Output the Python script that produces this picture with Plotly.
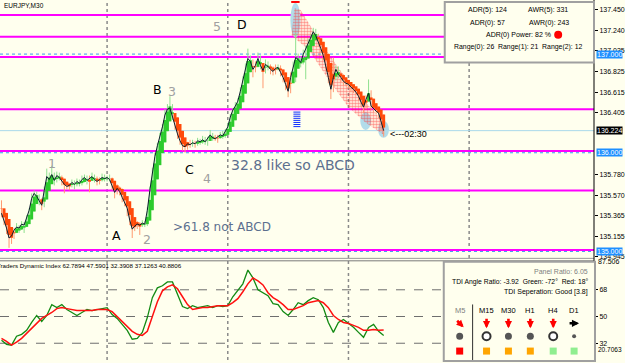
import plotly.graph_objects as go

# ------------------------------------------------------------------ data
symbol_title = "EURJPY,M30"

# M30 bar closes (bar index 0 .. 152)
close = [
    135.387, 135.317, 135.237, 135.136, 135.156, 135.216, 135.247, 135.237, 135.277, 135.267,
    135.337, 135.417, 135.538, 135.588, 135.558, 135.508, 135.468, 135.618, 135.759, 135.729,
    135.779, 135.719, 135.769, 135.749, 135.709, 135.679, 135.659, 135.669, 135.699, 135.679,
    135.709, 135.689, 135.729, 135.749, 135.719, 135.739, 135.759, 135.729, 135.709, 135.729,
    135.749, 135.739, 135.749, 135.729, 135.669, 135.598, 135.639, 135.608, 135.548, 135.498,
    135.438, 135.317, 135.226, 135.257, 135.277, 135.267, 135.287, 135.277, 135.417, 135.618,
    135.819, 135.960, 136.071, 136.161, 136.262, 136.382, 136.443, 136.453, 136.362, 136.272,
    136.191, 136.121, 136.071, 136.061, 136.091, 136.081, 136.101, 136.091, 136.121, 136.111,
    136.131, 136.111, 136.141, 136.181, 136.151, 136.141, 136.161, 136.181, 136.171, 136.211,
    136.262, 136.362, 136.432, 136.473, 136.523, 136.623, 136.744, 136.865, 136.955, 136.925,
    136.845, 136.885, 136.955, 136.885, 136.834, 136.895, 136.875, 136.845, 136.824, 136.855,
    136.865, 136.814, 136.764, 136.694, 136.623, 136.764, 136.865, 136.965, 136.945, 136.915,
    136.995, 137.056, 137.116, 137.166, 137.226, 137.186, 137.126, 137.056, 136.985, 136.885,
    136.764, 136.644, 136.764, 136.845, 136.794, 136.764, 136.724, 136.704, 136.694, 136.664,
    136.644, 136.613, 136.573, 136.513, 136.463, 136.543, 136.603, 136.473, 136.443, 136.422,
    136.402, 136.302, 136.224,
]
first_open = 135.488

# wick lengths beyond the body, in pips (0.01)
upper_wick_pips = [
    3, 2, 2, 2, 3, 2, 4, 2, 3, 2,   3, 2, 5, 3, 2, 2, 3, 4, 8, 4,
    9, 2, 4, 3, 2, 2, 3, 2, 3, 2,   3, 2, 4, 3, 2, 3, 4, 2, 3, 2,
    4, 3, 2, 3, 2, 2, 4, 2, 3, 2,   3, 2, 3, 4, 3, 2, 3, 2, 3, 4,
    3, 4, 3, 4, 3, 6, 5, 12, 4, 3,  2, 3, 2, 3, 2, 4, 3, 2, 3, 2,
    4, 3, 2, 5, 2, 3, 2, 3, 4, 3,   4, 3, 2, 4, 3, 4, 3, 4, 10, 3,
    2, 4, 6, 3, 2, 5, 3, 2, 3, 4,   3, 2, 3, 2, 3, 5, 6, 25, 4, 3,
    5, 3, 4, 3, 4, 3, 2, 3, 2, 4,   3, 2, 20, 4, 3, 2, 3, 2, 3, 2,
    3, 2, 3, 2, 3, 4, 14, 3, 2, 4,  3, 2, 3,
]
lower_wick_pips = [
    4, 5, 6, 10, 6, 3, 3, 5, 2, 8,  2, 4, 2, 6, 3, 4, 5, 2, 3, 2,
    2, 5, 2, 3, 4, 9, 3, 4, 2, 5,   2, 3, 2, 3, 4, 12, 2, 3, 4, 3,
    2, 3, 3, 2, 5, 6, 2, 4, 5, 4,   8, 5, 9, 2, 3, 10, 2, 3, 2, 2,
    2, 3, 2, 3, 2, 2, 3, 3, 3, 4,   5, 4, 5, 6, 3, 3, 2, 4, 2, 3,
    2, 3, 4, 2, 3, 2, 4, 2, 3, 2,   2, 2, 3, 2, 3, 2, 2, 3, 2, 4,
    8, 3, 2, 4, 18, 3, 4, 5, 4, 3,  2, 4, 5, 6, 6, 2, 3, 15, 3, 5,
    2, 25, 3, 2, 3, 4, 5, 4, 5, 4,  6, 10, 3, 3, 4, 5, 4, 3, 4, 5,
    4, 3, 4, 5, 6, 2, 2, 4, 3, 3,   5, 8, 6,
]

# Traders Dynamic Index, read every second bar
tdi_step = 2
tdi_green = [
    34.0, 31.3, 30.7, 36.7, 38.0, 40.7, 46.0, 50.7, 46.7, 50.7,
    58.0, 56.0, 58.0, 54.7, 52.7, 50.7, 52.7, 54.7, 54.0, 54.7,
    55.3, 56.0, 51.3, 48.7, 44.7, 40.7, 34.7, 35.3, 39.3, 49.3,
    62.7, 69.3, 70.7, 73.3, 73.3, 65.3, 56.7, 55.3, 57.3, 56.0,
    56.7, 57.3, 56.0, 57.3, 56.7, 57.3, 63.3, 67.3, 72.0, 81.3,
    76.0, 68.0, 66.0, 64.0, 58.7, 58.0, 53.3, 50.7, 54.7, 59.3,
    58.0, 60.7, 62.7, 61.3, 56.0, 46.0, 39.3, 46.0, 48.0, 45.3,
    42.7, 39.3, 36.0, 42.7, 44.7, 40.0, 37.13,
]
tdi_red = [
    35.3, 33.3, 30.7, 32.7, 35.3, 38.7, 42.0, 46.0, 48.7, 50.7,
    52.7, 55.3, 56.0, 55.3, 54.7, 54.0, 54.0, 54.0, 54.0, 54.7,
    54.7, 54.7, 53.3, 50.0, 46.0, 42.7, 40.0, 38.0, 37.3, 40.0,
    50.7, 60.0, 67.3, 70.0, 71.3, 68.7, 63.3, 58.0, 54.7, 55.3,
    56.0, 56.0, 56.7, 57.3, 57.3, 57.3, 59.3, 62.0, 66.7, 72.0,
    76.0, 74.0, 71.3, 66.0, 62.7, 60.7, 58.0, 54.7, 54.7, 56.0,
    57.3, 59.3, 60.0, 60.7, 59.3, 56.0, 50.7, 48.0, 46.0, 45.3,
    44.0, 42.7, 40.7, 40.7, 41.3, 40.7, 40.88,
]
tdi_title = "Traders Dynamic Index 62.7894 47.5901 32.3908 37.1263 40.8806"
tdi_levels = [68, 50, 32]
tdi_range = [20.7063, 87.506]

# levels and chart objects
magenta_levels = [137.397, 137.176, 136.970, 136.442, 136.017, 135.618, 135.015]
round_levels = [137.000, 136.000, 135.000]
bid_price = 136.224
day_start_bars = [42, 90, 138, 186]
price_range = [134.945, 137.548]
bar_range = [-0.594, 235.66]
price_ticks = [137.450, 137.240, 137.035, 136.825, 136.615, 136.405,
               135.780, 135.570, 135.365, 135.155, 134.945]

# fibo hatch band (bar index, price)
hatch_bars = [116.5, 118.9, 126.8, 135.9, 143.8, 152.2, 152.2, 145.0, 137.9, 130.0, 122.1, 115.4]
hatch_prices = [137.468, 137.448, 137.126, 136.794, 136.543, 136.302,
                136.181, 136.302, 136.463, 136.744, 137.046, 137.186]
# light blue highlight ovals: (bar0, bar1, price_top, price_bottom)
oval_bars0 = [114.9, 142.7, 149.8]
oval_bars1 = [118.9, 147.0, 154.1]
oval_top = [137.518, 136.412, 136.322]
oval_bot = [137.166, 136.231, 136.151]
# blue signal dashes
dash_bar = 117.5
dash_prices = [136.412, 136.391, 136.370, 136.349, 136.328, 136.307, 136.286, 136.265]
top_mark_bar, top_mark_price = 116.9, 137.528

# wave labels
wave_text = ["5", "D", "B", "3", "1", "C", "4", "A", "2"]
wave_bar = [85.7, 95.6, 61.9, 67.9, 20.0, 74.6, 81.7, 45.7, 58.0]
wave_price = [137.277, 137.297, 136.643, 136.623, 135.890, 135.829, 135.739, 135.166, 135.116]
wave_black = [False, True, True, False, False, True, False, True, False]
note_text = ["32.8 like so ABCD", ">61.8 not ABCD"]
note_size = [14, 12]
note_bar = [90.4, 67.5]
note_price = [135.880, 135.247]
timer_text, timer_bar, timer_price = "<---02:30", 153.7, 136.191

adr_lines = ["ADR(5): 124", "AWR(5): 331", "ADR(0): 57", "AWR(0): 243",
             "ADR(0) Power: 82 %", "Range(0): 26  Range(1): 21  Range(2): 12"]
panel_lines = ["Panel Ratio: 6.05", "TDI Angle Ratio: -3.92  Green: -72°  Red: 18°",
               "TDI Seperation: Good [3.8]"]
tf_names = ["M5", "M15", "M30", "H1", "H4", "D1"]
tf_dir = ["downright", "down", "down", "down", "down", "right"]
tf_arrow_col = ["#FF0000", "#FF0000", "#FF0000", "#FF0000", "#FF0000", "#000000"]
tf_circle = ["fill", "ring", "fill", "fill", "ring", "dot"]
tf_square = ["#FF0000", "#FFA500", "#FFA500", "#FFA500", "#90EE90", "#90EE90"]

# ------------------------------------------------------------------ layout constants
W, H = 625, 363
PW = 597            # plot area width in px
MAIN_BOTTOM = 259   # px
SUB_TOP = 263       # px
BG = "#FFFFEE"
FONT = "Liberation Sans"
WIDE = "DejaVu Sans"
GREEN = "#2DCB2D"
RED = "#FF4A0A"
GREEN_WICK = "#8FE08F"
RED_WICK = "#FF9A70"


def px(xp):
    return xp / PW


def py(yp):
    return 1 - yp / H


opens = [first_open] + close[:-1]
highs = [max(o, c) + u * 0.01 for o, c, u in zip(opens, close, upper_wick_pips)]
lows = [min(o, c) - d * 0.01 for o, c, d in zip(opens, close, lower_wick_pips)]
bars = list(range(len(close)))

# Heiken Ashi overlay computed from the bars
ha_close = [(o + h + l + c) / 4 for o, h, l, c in zip(opens, highs, lows, close)]
ha_open = [(opens[0] + close[0]) / 2]
for i in range(1, len(close)):
    ha_open.append((ha_open[-1] + ha_close[i - 1]) / 2)
ha_high = [max(h, a, b) for h, a, b in zip(highs, ha_open, ha_close)]
ha_low = [min(l, a, b) for l, a, b in zip(lows, ha_open, ha_close)]
ha_up = [c >= o for o, c in zip(ha_open, ha_close)]

fig = go.Figure()

# hatch band
fig.add_trace(go.Scatter(
    x=hatch_bars + hatch_bars[:1], y=hatch_prices + hatch_prices[:1], mode="lines",
    fill="toself", fillcolor="rgba(0,0,0,0)", line=dict(width=0),
    fillpattern=dict(shape=".", fgcolor="#FF2A2A", bgcolor="rgba(0,0,0,0)", size=3, solidity=0.55),
    hoverinfo="skip", showlegend=False))


def seg_trace(lo, hi, mask, want, col, width):
    xs, ys = [], []
    for i in bars:
        if mask[i] == want:
            xs += [i, i, None]
            ys += [lo[i], hi[i], None]
    return go.Scatter(x=xs, y=ys, mode="lines", line=dict(color=col, width=width),
                      hoverinfo="skip", showlegend=False)


# wicks then bodies
fig.add_trace(seg_trace(ha_low, ha_high, ha_up, True, GREEN_WICK, 1))
fig.add_trace(seg_trace(ha_low, ha_high, ha_up, False, RED_WICK, 1))
body_lo = [min(a, b) for a, b in zip(ha_open, ha_close)]
body_hi = [max(a, b) for a, b in zip(ha_open, ha_close)]
fig.add_trace(seg_trace(body_lo, body_hi, ha_up, True, GREEN, 3))
fig.add_trace(seg_trace(body_lo, body_hi, ha_up, False, RED, 3))

# close line
fig.add_trace(go.Scatter(x=bars, y=close, mode="lines", line=dict(color="#0C1E2C", width=1),
                         hoverinfo="skip", showlegend=False))

# blue dashes and top marker
fig.add_trace(go.Scatter(x=[dash_bar] * len(dash_prices), y=dash_prices, mode="markers",
                         marker=dict(symbol="line-ew", size=5, line=dict(color="#1030FF", width=1)),
                         hoverinfo="skip", showlegend=False))
fig.add_trace(go.Scatter(x=[top_mark_bar], y=[top_mark_price], mode="markers",
                         marker=dict(symbol="line-ew", size=6, line=dict(color="#FF0000", width=2)),
                         hoverinfo="skip", showlegend=False))

# TDI
tdi_x = bars[::tdi_step]
fig.add_trace(go.Scatter(x=tdi_x, y=tdi_green, mode="lines", line=dict(color="#138A13", width=1.3),
                         yaxis="y2", hoverinfo="skip", showlegend=False))
fig.add_trace(go.Scatter(x=tdi_x, y=tdi_red, mode="lines", line=dict(color="#FF1010", width=1.5),
                         yaxis="y2", hoverinfo="skip", showlegend=False))

shapes = []
# day separators
for b in day_start_bars:
    shapes.append(dict(type="line", xref="x", yref="paper", x0=b, x1=b, y0=0, y1=1, layer="below",
                       line=dict(color="#8A8A8A", width=1.5, dash="dot")))
# ovals
for b0, b1, t, bt in zip(oval_bars0, oval_bars1, oval_top, oval_bot):
    shapes.append(dict(type="circle", xref="x", yref="y", x0=b0, x1=b1, y0=bt, y1=t, layer="below",
                       fillcolor="#B2DCEA", line=dict(width=0)))
# horizontal levels
shapes.append(dict(type="line", xref="paper", yref="y", x0=0, x1=1, y0=bid_price, y1=bid_price,
                   layer="below", line=dict(color="#A9D9EA", width=1)))
for lv in round_levels:
    shapes.append(dict(type="line", xref="paper", yref="y", x0=0, x1=1, y0=lv, y1=lv, layer="below",
                       line=dict(color="#3A9AF0", width=1, dash="dot")))
for lv in magenta_levels:
    shapes.append(dict(type="line", xref="paper", yref="y", x0=0, x1=1, y0=lv, y1=lv, layer="below",
                       line=dict(color="#FF00FF", width=2)))
for lv in tdi_levels:
    shapes.append(dict(type="line", xref="paper", yref="y2", x0=0, x1=1, y0=lv, y1=lv, layer="below",
                       line=dict(color="#6E6E6E", width=1, dash="dash")))
# pane separator and axis line
for yp, col in [(260.5, "#9A9A9A"), (263, "#7A7A7A")]:
    shapes.append(dict(type="line", xref="paper", yref="paper", x0=0, x1=1, y0=py(yp), y1=py(yp),
                       line=dict(color=col, width=1)))
shapes.append(dict(type="line", xref="paper", yref="paper", x0=1, x1=1, y0=0, y1=1,
                   line=dict(color="#000000", width=1)))
# info boxes
shapes.append(dict(type="rect", xref="paper", yref="paper", x0=px(447), x1=px(597), y0=py(63), y1=py(2),
                   fillcolor=BG, line=dict(color="#A0A0A0", width=2), layer="above"))
shapes.append(dict(type="rect", xref="paper", yref="paper", x0=px(446), x1=px(598), y0=py(364), y1=py(264),
                   fillcolor=BG, line=dict(color="#A0A0A0", width=2), layer="above"))
shapes.append(dict(type="line", xref="paper", yref="paper", x0=px(475), x1=px(475), y0=py(363), y1=py(307),
                   line=dict(color="#303030", width=1), layer="above"))
# red power dot
shapes.append(dict(type="circle", xref="paper", yref="paper", xsizemode="pixel", ysizemode="pixel",
                   xanchor=px(561), yanchor=py(35), x0=-4, x1=4, y0=-4, y1=4,
                   fillcolor="#FF0000", line=dict(width=0), layer="above"))

tf_x = [462, 489, 511, 533, 556, 577]
for xp, kind, sq in zip(tf_x, tf_circle, tf_square):
    if kind == "fill":
        shapes.append(dict(type="circle", xref="paper", yref="paper", xsizemode="pixel", ysizemode="pixel",
                           xanchor=px(xp), yanchor=py(339), x0=-3.5, x1=3.5, y0=-3.5, y1=3.5,
                           fillcolor="#555555", line=dict(width=0), layer="above"))
    elif kind == "ring":
        shapes.append(dict(type="circle", xref="paper", yref="paper", xsizemode="pixel", ysizemode="pixel",
                           xanchor=px(xp), yanchor=py(339), x0=-4, x1=4, y0=-4, y1=4,
                           fillcolor="#FFFFFF", line=dict(color="#333333", width=2), layer="above"))
    else:
        shapes.append(dict(type="circle", xref="paper", yref="paper", xsizemode="pixel", ysizemode="pixel",
                           xanchor=px(xp), yanchor=py(339), x0=-2, x1=2, y0=-2, y1=2,
                           fillcolor="#555555", line=dict(width=0), layer="above"))
    shapes.append(dict(type="rect", xref="paper", yref="paper", xsizemode="pixel", ysizemode="pixel",
                       xanchor=px(xp), yanchor=py(354), x0=-3.5, x1=3.5, y0=-3.5, y1=3.5,
                       fillcolor=sq, line=dict(width=0), layer="above"))

ann = []


def text(t, x, y, size=7, color="#000000", xanchor="center", xref="paper", yref="paper", family=FONT, **kw):
    d = dict(text=t.replace("  ", "\u00a0\u00a0"), x=x, y=y, xref=xref, yref=yref, showarrow=False,
             xanchor=xanchor, yanchor="middle", font=dict(family=family, size=size, color=color))
    d.update(kw)
    ann.append(d)


text(symbol_title, px(2), py(6), size=6.5, xanchor="left")
for t, b, p, blk in zip(wave_text, wave_bar, wave_price, wave_black):
    text(t, b, p, size=12.5, color="#000000" if blk else "#A0A0A0", xref="x", yref="y", family=WIDE)
for t, s, b, p in zip(note_text, note_size, note_bar, note_price):
    text(t, b, p, size=s, color="#5C6F8E", xanchor="left", xref="x", yref="y", family=WIDE)
text(timer_text, timer_bar, timer_price, size=9, xanchor="left", xref="x", yref="y")

# ADR box
text(adr_lines[0], px(490), py(10))
text(adr_lines[1], px(551), py(10))
text(adr_lines[2], px(490), py(23))
text(adr_lines[3], px(552), py(23))
text(adr_lines[4], px(521), py(35))
text(adr_lines[5], px(521), py(47), size=6.9)

# TDI panel
text(panel_lines[0], px(593), py(274), color="#808080", xanchor="right")
text(panel_lines[1], px(593), py(284), xanchor="right", size=6.8)
text(panel_lines[2], px(593), py(294), xanchor="right")
# arrow tail offset (px, relative to tip) and tip position relative to row centre
arrow_vec = {"down": (0, -11), "downright": (-8, -8), "right": (-11, 0)}
arrow_tip = {"down": (0, 5), "downright": (4, 4), "right": (5, 0)}
for i, (xp, nm, dr, ac) in enumerate(zip(tf_x, tf_names, tf_dir, tf_arrow_col)):
    text(nm, px(xp), py(313), size=7.5, color="#808080" if i == 0 else "#000000")
    tx, ty = arrow_tip[dr]
    ax, ay = arrow_vec[dr]
    ann.append(dict(text="", x=px(xp + tx), y=py(326 + ty), xref="paper", yref="paper",
                    showarrow=True, ax=ax, ay=ay, arrowhead=2, arrowsize=0.55, arrowwidth=2.6,
                    arrowcolor=ac, standoff=0, startstandoff=0))

text(tdi_title, px(-5), py(268), size=6.2, xanchor="left")

# right-axis price boxes
for lv in round_levels:
    ann.append(dict(text=f"{lv:.3f}", x=1, y=lv, xref="paper", yref="y", xanchor="left", xshift=2,
                    showarrow=False, bgcolor="#1E8FFF", borderpad=0,
                    font=dict(family=FONT, size=7, color="#FFFFFF")))
ann.append(dict(text=f"{bid_price:.3f}", x=1, y=bid_price, xref="paper", yref="y", xanchor="left", xshift=2,
                showarrow=False, bgcolor="#000000", borderpad=0,
                font=dict(family=FONT, size=7, color="#FFFFFF")))
ann.append(dict(text=f"{tdi_range[1]:.3f}", x=1, y=py(269), xref="paper", yref="paper", xanchor="left",
                xshift=2, showarrow=False, font=dict(family=FONT, size=7, color="#000000")))
ann.append(dict(text=f"{tdi_range[0]:.4f}", x=1, y=py(358), xref="paper", yref="paper", xanchor="left",
                xshift=2, showarrow=False, font=dict(family=FONT, size=6.5, color="#000000")))

fig.update_layout(
    width=W, height=H, autosize=False,
    margin=dict(l=0, r=W - PW, t=0, b=0),
    paper_bgcolor=BG, plot_bgcolor=BG,
    showlegend=False,
    shapes=shapes, annotations=ann,
    xaxis=dict(range=bar_range, visible=False, anchor="y2"),
    yaxis=dict(domain=[(H - MAIN_BOTTOM) / H, 1], range=price_range, side="right",
               showgrid=False, zeroline=False, showline=False,
               tickvals=price_ticks, ticktext=[f"{v:.3f}" for v in price_ticks],
               ticks="outside", ticklen=3, tickcolor="#000000",
               tickfont=dict(family=FONT, size=7, color="#000000")),
    yaxis2=dict(domain=[0, (H - SUB_TOP) / H], range=tdi_range, side="right",
                showgrid=False, zeroline=False, showline=False,
                tickvals=tdi_levels, ticktext=[str(v) for v in tdi_levels],
                ticks="outside", ticklen=3, tickcolor="#000000",
                tickfont=dict(family=FONT, size=7, color="#000000")),
)

fig.write_html("out.html")
